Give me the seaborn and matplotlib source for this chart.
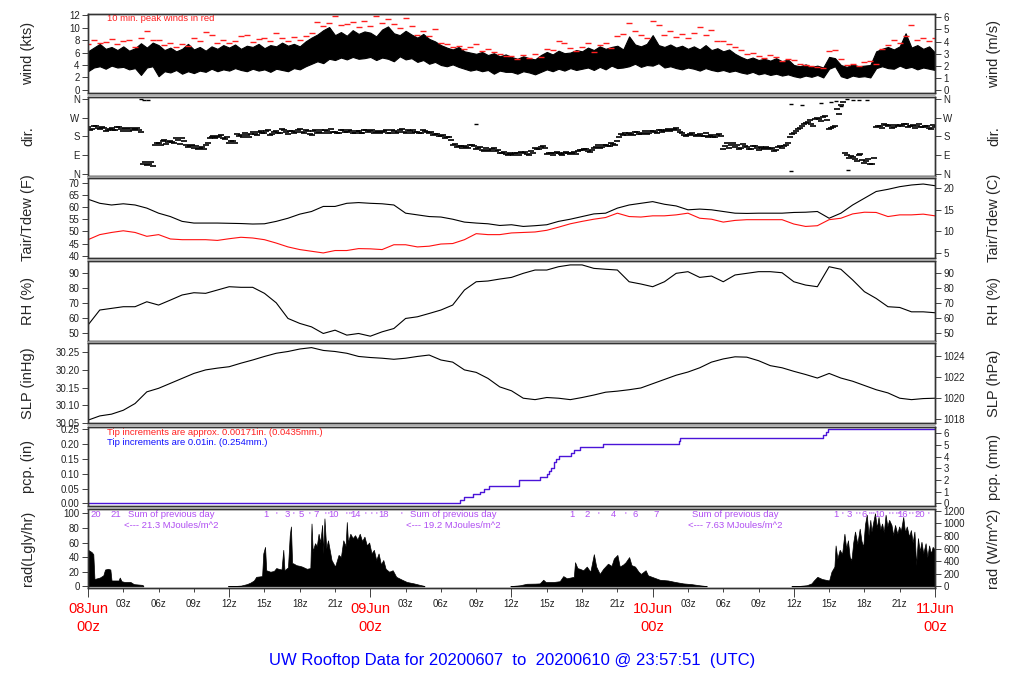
import numpy as np
import matplotlib
matplotlib.use("Agg")
import matplotlib.pyplot as plt
from matplotlib.lines import Line2D
from matplotlib.ticker import FormatStrFormatter
import seaborn as sns

sns.set_theme(style="ticks")
plt.rcParams['font.family'] = ['Liberation Sans', 'DejaVu Sans']

# ---- data (hours since 08Jun 00z) ----
hours = np.arange(0, 73)            # hourly samples
half_hours = np.arange(0, 145) / 2  # 30 min samples
dir_hours = np.arange(0, 217) / 3   # 20 min samples

# wind (kts), 30 min low / high of the 1-min trace and 10-min peaks
wind_lo = [3.0, 3.6, 3.8, 3.4, 3.9, 3.6, 3.7, 3.3, 3.5, 2.4, 3.6, 3.8,
           2.2, 3.0, 2.8, 3.2, 2.6, 3.0, 2.7, 3.1, 2.9, 3.4, 3.0, 3.3,
           3.1, 3.5, 3.2, 3.0, 3.4, 3.1, 3.3, 2.9, 3.4, 3.2, 3.0, 3.5,
           3.3, 3.8, 4.2, 4.6, 4.3, 5.0, 4.8, 5.2, 4.9, 5.3, 5.0, 5.1,
           5.3, 4.8, 5.2, 5.0, 4.6, 5.4, 4.9, 5.1, 4.5, 4.8, 4.2, 4.5,
           4.0, 3.8, 4.1, 3.7, 3.4, 3.1, 3.3, 3.0, 3.2, 2.6, 3.1, 2.9,
           2.9, 2.6, 3.0, 2.8, 2.5, 2.9, 3.3, 3.0, 3.4, 3.1, 3.5, 3.2,
           3.4, 3.6, 3.2, 3.7, 3.3, 3.9, 3.5, 3.6, 3.8, 4.2, 3.7, 4.0,
           3.9, 4.3, 3.6, 3.8, 3.5, 3.3, 3.6, 3.4, 3.1, 3.5, 3.2, 3.0,
           3.2, 2.9, 3.1, 2.8, 2.6, 2.9, 2.5, 2.7, 2.4, 2.6, 2.3, 2.5,
           2.2, 2.0, 2.3, 2.1, 2.4, 2.0, 3.4, 3.8, 2.2, 1.9, 2.3, 2.1,
           2.2, 2.0, 3.5, 3.8, 3.5, 3.4, 3.9, 3.5, 3.7, 3.3, 3.6, 3.4,
           3.2]
wind_hi = [6.2, 6.8, 7.4, 6.6, 6.9, 6.4, 7.0, 6.3, 6.7, 7.5, 6.8, 7.6,
           7.2, 6.4, 6.8, 6.2, 6.6, 7.4, 6.5, 6.9, 6.3, 7.0, 6.6, 7.2,
           6.8, 7.3, 6.6, 7.1, 6.9, 7.4, 6.7, 7.2, 7.0, 7.6, 7.1, 7.4,
           7.0, 7.8, 8.4, 8.9, 9.6, 10.1, 8.8, 9.3, 8.7, 9.6, 9.0, 9.4,
           9.2, 8.6, 9.7, 10.2, 9.1, 8.8, 9.5, 8.9, 8.4, 9.0, 8.2, 7.8,
           7.2, 6.8, 6.5, 6.9, 6.2, 6.0, 5.8, 6.1, 5.6, 5.9, 5.4, 5.7,
           5.3, 5.0, 5.4, 5.1, 4.9, 5.6, 6.1, 5.7, 6.3, 5.9, 6.0, 6.4,
           6.2, 6.8, 6.4, 7.0, 6.6, 6.9, 7.1, 6.5, 8.6, 7.3, 7.0, 7.4,
           8.8, 7.2, 6.9, 7.3, 6.8, 7.1, 6.6, 7.0, 6.5, 7.2, 6.4, 6.7,
           6.2, 6.5, 5.8, 5.3, 4.9, 5.2, 4.8, 5.0, 4.7, 5.1, 4.6, 4.9,
           4.0, 3.8, 4.1, 3.7, 3.9, 3.6, 5.3, 5.1, 4.0, 3.7, 4.1, 3.8,
           3.9, 4.0, 6.2, 6.6, 6.9, 6.5, 7.0, 9.1, 6.8, 7.2, 6.6, 7.0,
           6.0]
wind_peak = [7.4, 8.0, 7.6, 7.7, 8.2, 7.3, 7.9, 8.1, 6.9, 8.4, 9.4, 8.0,
             8.0, 7.2, 7.6, 6.9, 7.4, 7.1, 8.3, 7.8, 9.3, 8.9, 7.6, 8.1,
             7.5, 7.9, 8.6, 8.9, 7.7, 8.2, 8.4, 7.9, 9.2, 8.3, 7.8, 8.5,
             8.1, 8.7, 9.1, 10.9, 10.2, 10.7, 11.8, 10.4, 10.6, 10.9, 10.1, 11.1,
             10.3, 11.9, 10.8, 11.4, 10.6, 10.0, 11.5, 10.2, 8.8, 9.4, 8.6, 9.8,
             7.6, 7.3, 6.9, 7.1, 6.6, 6.9, 7.4, 6.3, 6.6, 6.1, 5.8, 5.5,
             5.4, 5.0, 5.6, 5.2, 5.8, 5.3, 6.5, 6.4, 7.8, 7.5, 6.7, 6.2,
             6.9, 7.6, 6.1, 7.2, 7.5, 6.8, 8.6, 9.0, 10.7, 9.5, 8.9, 8.4,
             11.1, 10.4, 8.8, 9.4, 8.5, 9.0, 8.4, 9.2, 10.1, 8.8, 9.7, 7.9,
             7.8, 7.4, 6.9, 6.4, 5.8, 5.9, 5.5, 5.2, 5.6, 5.3, 4.7, 5.0,
             4.8, 4.2, 4.0, 3.9, 3.6, 3.5, 6.3, 6.4, 5.0, 4.0, 4.2, 3.9,
             4.5, 4.6, 4.2, 6.6, 7.2, 8.1, 7.6, 8.6, 10.5, 8.0, 8.4, 7.9,
             8.3]

# wind direction (deg), two interleaved 20 min sample sets
wind_dir = [225, 218, 230, 215, 222, 210, 220, 212, 224, 208, 216, 219,
            214, 212, 48, 40, 55, 140, 150, 158, 145, 160, 148, 165,
            170, 140, 132, 125, 118, 130, 140, 170, 180, 175, 185, 168,
            150, 160, 190, 185, 195, 178, 200, 188, 205, 195, 210, 190,
            205, 198, 212, 190, 208, 200, 215, 196, 205, 185, 210, 200,
            198, 206, 215, 202, 196, 210, 200, 205, 195, 208, 198, 212,
            204, 196, 207, 200, 210, 198, 206, 200, 214, 198, 205, 210,
            202, 196, 208, 195, 185, 190, 180, 170, 176, 140, 128, 135,
            132, 125, 140, 118, 128, 110, 115, 120, 108, 98, 105, 92,
            96, 102, 92, 100, 95, 108, 125, 118, 132, 95, 102, 98,
            100, 92, 104, 97, 105, 110, 112, 118, 106, 122, 138, 130,
            140, 132, 145, 160, 190, 195, 198, 185, 202, 190, 205, 196,
            208, 198, 212, 205, 215, 210, 220, 200, 188, 185, 195, 180,
            190, 182, 176, 185, 178, 192, 120, 150, 140, 130, 118, 145,
            128, 120, 135, 115, 125, 130, 118, 110, 128, 125, 140, 175,
            195, 215, 230, 245, 260, 230, 270, 255, 280, 215, 225, 310,
            330, 100, 75, 80, 60, 95, 52, 70, 48, 225, 232, 240,
            228, 220, 235, 235, 242, 226, 230, 222, 238, 225, 232, 218,
            225]
wind_dir_b = [212, 228, 220, 226, 205, 218, 210, 226, 215, 222, 204, 212,
              220, 200, 58, 45, 35, 150, 140, 165, 152, 155, 170, 142,
              160, 128, 138, 132, 122, 120, 150, 178, 172, 182, 172, 178,
              160, 150, 182, 178, 188, 190, 192, 200, 195, 205, 185, 200,
              195, 215, 202, 205, 195, 212, 200, 210, 190, 205, 195, 212,
              210, 195, 200, 195, 212, 200, 210, 198, 205, 195, 210, 200,
              212, 200, 198, 205, 195, 212, 198, 210, 202, 210, 195, 200,
              195, 210, 200, 200, 192, 180, 185, 175, 165, 145, 132, 125,
              128, 138, 132, 125, 115, 122, 110, 125, 115, 102, 95, 100,
              90, 98, 105, 104, 92, 98, 118, 128, 125, 100, 92, 106,
              95, 102, 98, 102, 96, 115, 118, 110, 115, 128, 125, 140,
              135, 148, 138, 175, 185, 188, 192, 200, 190, 198, 192, 205,
              202, 210, 200, 212, 205, 218, 210, 195, 182, 192, 185, 188,
              184, 195, 180, 178, 188, 182, 135, 125, 148, 140, 125, 135,
              118, 132, 125, 128, 118, 122, 124, 115, 132, 132, 150, 190,
              205, 222, 240, 250, 238, 265, 262, 275, 258, 220, 232, 290,
              345, 90, 85, 70, 88, 65, 60, 45, 75, 230, 222, 235,
              236, 226, 230, 228, 238, 232, 236, 228, 225, 230, 222, 235,
              228]
stray_hours = [4.5, 4.8, 5.1, 33.0, 59.8, 60.7, 62.3, 63.2, 63.6, 64.0,
               64.5, 65.0, 65.5, 66.2, 59.8, 64.6]
stray_dir = [358, 357, 356, 240, 338, 332, 340, 345, 350, 325,
             358, 357, 356, 355, 13, 16]

# air / dew point temperature (F)
t_air = [63.4, 61.7, 61.0, 61.5, 61.0, 59.7, 57.6, 56.2, 54.2, 53.5,
         53.5, 53.5, 53.4, 53.3, 53.1, 53.2, 54.2, 55.5, 57.2, 58.3,
         60.4, 60.4, 61.7, 62.0, 61.7, 61.5, 61.0, 57.6, 56.9, 56.2,
         56.0, 55.1, 53.9, 53.5, 53.2, 52.5, 52.8, 52.1, 52.4, 52.8,
         54.2, 55.1, 56.2, 57.3, 57.6, 59.7, 61.0, 61.7, 62.4, 61.3,
         60.6, 59.0, 59.3, 59.0, 58.3, 57.6, 57.5, 57.6, 57.6, 57.6,
         57.9, 58.0, 58.3, 55.5, 57.6, 61.0, 63.8, 66.6, 67.5, 68.6,
         69.3, 69.7, 69.0]
t_dew = [46.6, 48.7, 49.6, 50.3, 49.6, 48.0, 48.7, 46.9, 46.6, 46.6,
         46.6, 46.3, 47.0, 47.6, 47.3, 46.6, 45.2, 43.6, 42.5, 41.8,
         41.1, 42.1, 42.1, 42.9, 42.8, 42.5, 44.5, 44.5, 43.6, 43.9,
         44.8, 45.0, 46.6, 49.1, 48.7, 48.7, 49.4, 49.6, 49.8, 50.5,
         51.8, 53.2, 54.2, 55.1, 55.8, 57.6, 56.2, 56.0, 56.5, 56.5,
         56.9, 57.6, 55.5, 55.1, 53.9, 54.6, 54.9, 54.9, 54.9, 54.9,
         53.1, 52.1, 52.4, 54.9, 55.5, 57.3, 58.0, 57.9, 56.2, 56.9,
         56.9, 57.2, 56.5]

# relative humidity (%)
rh = [55.6, 65.6, 66.7, 67.8, 67.8, 71.1, 68.9, 72.2, 75.6, 77.1,
      76.7, 78.9, 81.1, 80.7, 80.7, 76.7, 70.4, 60.0, 56.7, 54.4,
      50.0, 52.2, 48.9, 50.0, 48.2, 51.1, 53.3, 60.0, 61.1, 63.3,
      65.6, 68.9, 78.9, 84.4, 84.9, 86.2, 87.3, 90.0, 92.2, 92.2,
      94.4, 95.6, 95.6, 93.3, 92.7, 92.2, 84.4, 82.9, 81.1, 84.4,
      90.0, 91.1, 87.3, 88.2, 84.4, 88.9, 90.0, 91.1, 91.1, 90.4,
      84.4, 82.2, 81.1, 94.4, 92.7, 85.6, 77.8, 73.3, 67.8, 67.3,
      64.4, 64.4, 63.8]

# sea level pressure (inHg)
slp = [30.058, 30.070, 30.075, 30.086, 30.105, 30.138, 30.148, 30.162, 30.176, 30.190,
       30.200, 30.205, 30.209, 30.219, 30.228, 30.238, 30.247, 30.252, 30.259, 30.263,
       30.255, 30.252, 30.247, 30.238, 30.235, 30.233, 30.230, 30.233, 30.238, 30.242,
       30.228, 30.222, 30.200, 30.193, 30.176, 30.152, 30.141, 30.120, 30.116, 30.122,
       30.120, 30.116, 30.122, 30.129, 30.137, 30.140, 30.144, 30.149, 30.161, 30.173,
       30.185, 30.194, 30.206, 30.222, 30.231, 30.237, 30.236, 30.226, 30.212, 30.206,
       30.196, 30.187, 30.177, 30.190, 30.177, 30.168, 30.156, 30.144, 30.135, 30.120,
       30.116, 30.119, 30.120]

# accumulated precipitation (in)
pcp_hours = [0, 31.6, 32.0, 32.7, 33.3, 33.7, 34.1, 36.6, 38.4, 39.0, 39.2, 39.4,
             39.6, 39.8, 40.0, 41.1, 41.3, 41.8, 43.8, 50.2, 50.35, 62.5, 62.7, 62.9, 72]
pcp_in = [0.0, 0.01, 0.02, 0.03, 0.04, 0.05, 0.06, 0.08, 0.09, 0.10, 0.11, 0.12,
          0.14, 0.15, 0.16, 0.17, 0.18, 0.19, 0.20, 0.21, 0.22, 0.23, 0.24, 0.25, 0.25]

# solar radiation (langleys/hr), one pair of lists per daylight period
rad0_h = [0.0, 0.3, 0.45, 0.55, 1.0, 1.3, 1.45, 1.7, 1.9, 2.0, 2.1, 2.6, 2.7,
          2.85, 3.1, 3.6, 3.9, 4.6, 4.7]
rad0_v = [50, 47, 44, 10, 12, 15, 23, 24, 23, 8, 8, 8, 12, 7, 6, 6, 3, 2, 1]
rad1_h = [11.9, 12.5, 13.0, 13.5, 13.8, 14.1, 14.3, 14.8, 14.9, 15.05, 15.15, 15.5,
          15.8, 16.0, 16.2, 16.45, 16.6, 16.7, 17.0, 17.15, 17.25, 17.35, 17.5, 17.7,
          18.0, 18.2, 18.6, 18.9, 19.0, 19.1, 19.3, 19.45, 19.6, 19.75, 19.9, 20.0,
          20.1, 20.25, 20.4, 20.7, 21.0, 21.3, 21.5, 21.7, 21.9, 22.0, 22.1, 22.3,
          22.5, 22.7, 22.9, 23.1, 23.3, 23.5, 23.7, 23.9, 24.1, 24.3, 24.5, 24.7,
          24.9, 25.1, 25.3, 25.6, 25.9, 26.2, 26.7, 27.1, 27.7, 28.2, 28.6]
rad1_v = [0.3, 0.5, 1.0, 3, 5, 8, 13, 14, 45, 54, 22, 20,
          21, 25, 24, 23, 50, 22, 26, 70, 82, 32, 31, 29,
          28, 27, 24, 25, 86, 48, 59, 55, 72, 60, 84, 45,
          93, 52, 63, 36, 27, 43, 40, 63, 55, 88, 60, 72,
          66, 70, 64, 72, 62, 68, 56, 60, 45, 50, 36, 45,
          30, 36, 24, 20, 22, 13, 9, 6, 4, 2, 0.5]
rad2_h = [35.9, 36.7, 37.3, 38.0, 38.4, 38.7, 38.9, 39.6, 40.1, 40.4, 40.7, 41.0,
          41.3, 41.4, 41.6, 41.8, 42.1, 42.4, 42.7, 43.0, 43.2, 43.5, 43.8, 44.2,
          44.5, 44.7, 45.0, 45.2, 45.5, 45.7, 46.0, 46.2, 46.5, 46.8, 47.0, 47.4,
          47.6, 48.1, 48.6, 49.3, 49.9, 50.6, 51.3, 52.0, 52.6]
rad2_v = [0.3, 1.4, 3.5, 3.7, 4, 9, 6, 6, 7, 14, 11, 12,
          13, 33, 25, 24, 22, 27, 20, 44, 27, 17, 24, 31,
          28, 38, 43, 27, 30, 33, 40, 29, 27, 20, 17, 22,
          15, 12, 9, 8, 6, 4, 3, 1.4, 0.3]
rad3_h = [59.8, 60.5, 61.1, 61.5, 61.7, 62.0, 62.4, 63.0, 63.2, 63.45, 63.55, 63.7,
          63.9, 64.1, 64.3, 64.45, 64.6, 64.75, 64.9, 65.05, 65.2, 65.4, 65.6, 65.75,
          65.9, 66.05, 66.2, 66.35, 66.5, 66.6, 66.75, 66.9, 67.05, 67.2, 67.35, 67.5,
          67.65, 67.8, 67.95, 68.1, 68.3, 68.45, 68.6, 68.8, 68.95, 69.1, 69.3, 69.45,
          69.6, 69.8, 69.95, 70.1, 70.25, 70.4, 70.55, 70.7, 70.85, 71.0, 71.2, 71.35,
          71.5, 71.65, 71.8, 72.0]
rad3_v = [0.3, 0.6, 1.5, 4, 8, 13, 10, 8, 20, 27, 56, 38,
          50, 44, 72, 52, 63, 40, 36, 60, 75, 58, 79, 62,
          54, 85, 98, 70, 91, 75, 88, 100, 80, 95, 78, 86,
          74, 98, 82, 91, 84, 70, 84, 72, 82, 76, 95, 74,
          82, 68, 77, 60, 75, 29, 66, 48, 61, 45, 59, 40,
          56, 45, 54, 50]

# cumulative MJ/m^2 marks printed in the radiation panel
mark_hours = [0.68, 2.38, 15.1, 16.0, 16.9, 17.5, 18.1, 18.8, 19.4, 20.2, 20.45, 20.85,
              22.0, 22.2, 22.4, 22.7, 23.6, 24.1, 24.5, 25.1, 26.6,
              41.1, 42.4, 43.4, 44.7, 45.7, 46.5, 48.3,
              63.6, 64.1, 64.7, 65.3, 65.6, 66.0, 66.4, 66.6, 66.8, 67.3, 68.1, 68.4,
              68.7, 68.9, 69.0, 69.25, 69.8, 70.1, 70.4, 70.7, 71.4]
mark_text = ["20", "21", "1", "'", "3", "'", "5", "'", "7", "'", "'", "10",
             "'", "'", "'", "14", "'", "'", "'", "18", "'",
             "1", "2", "'", "4", "'", "6", "7",
             "1", "'", "3", "'", "'", "6", "'", "'", "'", "10", "'", "'",
             "'", "'", "'", "16", "'", "'", "'", "20", "'"]
sum_hours = [7.05, 31.05, 55.0]
sum_text = ["21.3", "19.2", "7.63"]

day_names = ["08Jun", "09Jun", "10Jun", "11Jun"]

# ---- layout (pixel rows of each panel) ----
W, H = 1024, 700
X0, X1 = 88, 935
rows = [(14, 93), (97, 176), (178, 258), (261, 341), (343, 423), (427, 506), (509, 588)]
PURPLE = '#b04ef2'
TICK_COL = '#222222'

fig = plt.figure(figsize=(W / 100, H / 100), dpi=100)


def panel(top, bot, ylim):
    ax = fig.add_axes([X0 / W, 1 - bot / H, (X1 - X0) / W, (bot - top) / H])
    ax.set_xlim(0, 72)
    ax.set_ylim(*ylim)
    ax.set_facecolor('white')
    for s in ax.spines.values():
        s.set_color('#333333')
        s.set_linewidth(1.0)
    ax.tick_params(axis='y', direction='out', length=4, width=0.6,
                   labelsize=7, pad=2, colors=TICK_COL)
    ax.tick_params(axis='x', bottom=False, labelbottom=False)
    return ax


def twin(ax, f, ticks, fmt=None, labels=None):
    a2 = ax.twinx()
    lo, hi = ax.get_ylim()
    a2.set_ylim(f(lo), f(hi))
    a2.set_yticks(ticks)
    if labels is not None:
        a2.set_yticklabels(labels)
    elif fmt is not None:
        a2.yaxis.set_major_formatter(FormatStrFormatter(fmt))
    for s in a2.spines.values():
        s.set_color('#333333')
        s.set_linewidth(1.0)
    a2.tick_params(axis='y', direction='out', length=4, width=0.6,
                   labelsize=7, pad=2, colors=TICK_COL)
    return a2


# 1. wind speed: band between the low and high of the 1-min trace
ax = panel(*rows[0], (-0.5, 12.2))
ax.fill_between(half_hours, wind_lo, wind_hi, color='black', lw=0.8)
ax.plot(half_hours, wind_peak, ls='none', marker='_', ms=4, mew=1.0, color='#ff2020')
ax.set_yticks(range(0, 13, 2))
ax.text(1.6, 11.4, "10 min. peak winds in red", color='#ff2020', fontsize=6.8,
        ha='left', va='center')
twin(ax, lambda v: v / 1.94384, range(0, 7))

# 2. wind direction
ax = panel(*rows[1], (-11, 370))
ax.plot(dir_hours, wind_dir, ls='none', marker='_', ms=4, mew=1.2, color='black')
ax.plot(dir_hours + 1 / 6, wind_dir_b, ls='none', marker='_', ms=4, mew=1.2, color='black')
ax.plot(stray_hours, stray_dir, ls='none', marker='_', ms=3.5, mew=1.0, color='black')
ax.set_yticks([0, 90, 180, 270, 360])
ax.set_yticklabels(['N', 'E', 'S', 'W', 'N'])
twin(ax, lambda v: v, [0, 90, 180, 270, 360], labels=['N', 'E', 'S', 'W', 'N'])

# 3. temperature
ax = panel(*rows[2], (39.0, 72.2))
sns.lineplot(x=hours, y=t_air, ax=ax, color='black', lw=0.8, estimator=None, errorbar=None)
sns.lineplot(x=hours, y=t_dew, ax=ax, color='#ff1010', lw=0.8, estimator=None, errorbar=None)
ax.set_yticks(range(40, 71, 5))
twin(ax, lambda v: (v - 32) * 5 / 9, [5, 10, 15, 20])

# 4. relative humidity
ax = panel(*rows[3], (45.0, 98.2))
sns.lineplot(x=hours, y=rh, ax=ax, color='black', lw=0.8, estimator=None, errorbar=None)
ax.set_yticks(range(50, 91, 10))
twin(ax, lambda v: v, range(50, 91, 10))

# 5. sea level pressure
ax = panel(*rows[4], (30.05, 30.276))
sns.lineplot(x=hours, y=slp, ax=ax, color='black', lw=0.8, estimator=None, errorbar=None)
ax.set_yticks([30.05, 30.10, 30.15, 30.20, 30.25])
ax.yaxis.set_major_formatter(FormatStrFormatter('%.2f'))
twin(ax, lambda v: v * 33.8639, [1018, 1020, 1022, 1024])

# 6. precipitation
ax = panel(*rows[5], (-0.009, 0.258))
sns.lineplot(x=pcp_hours, y=pcp_in, ax=ax, color='#4a14d8', lw=1.0,
             drawstyle='steps-post', estimator=None, errorbar=None)
ax.set_yticks([0, 0.05, 0.10, 0.15, 0.20, 0.25])
ax.yaxis.set_major_formatter(FormatStrFormatter('%.2f'))
ax.text(1.6, 0.2387, "Tip increments are approx. 0.00171in. (0.0435mm.)",
        color='#ff2020', fontsize=6.8, ha='left', va='center')
ax.text(1.6, 0.2073, "Tip increments are 0.01in. (0.254mm.)",
        color='#1010ff', fontsize=6.8, ha='left', va='center')
twin(ax, lambda v: v * 25.4, range(0, 7))

# 7. solar radiation
ax = panel(*rows[6], (-2.3, 105.9))
for rh_, rv_ in [(rad0_h, rad0_v), (rad1_h, rad1_v), (rad2_h, rad2_v), (rad3_h, rad3_v)]:
    ax.fill_between(rh_, 0, rv_, color='black', lw=0.5)
ax.set_yticks(range(0, 101, 20))
for h, s in zip(mark_hours, mark_text):
    ax.text(h, 97.7, s, color=PURPLE, fontsize=6.8, ha='center', va='center')
for h, s in zip(sum_hours, sum_text):
    ax.text(h, 97.7, "Sum of previous day", color=PURPLE, fontsize=6.8,
            ha='center', va='center')
    ax.text(h, 83.0, "<--- %s MJoules/m^2" % s, color=PURPLE, fontsize=6.8,
            ha='center', va='center')
twin(ax, lambda v: v * 11.622, range(0, 1201, 200))

# time axis on the bottom panel
major = list(range(0, 73, 12))
minor = [h for h in range(3, 72, 3) if h % 12]
ax.set_xticks(major, labels=['' if h % 24 == 0 else '%02dz' % (h % 24) for h in major])
ax.set_xticks(minor, labels=['%02dz' % (h % 24) for h in minor], minor=True)
ax.tick_params(axis='x', which='major', bottom=True, labelbottom=True, direction='out',
               length=6.5, width=0.6, pad=1.5, labelsize=7, colors=TICK_COL)
ax.tick_params(axis='x', which='minor', bottom=True, labelbottom=True, direction='out',
               length=3, width=0.6, pad=5, labelsize=7, colors=TICK_COL)
xt = ax.get_xaxis_transform()
for i, name in enumerate(day_names):
    ax.text(24 * i, -0.266, name, transform=xt, color='#ff0000', fontsize=10.5,
            ha='center', va='center')
    ax.text(24 * i, -0.49, "00z", transform=xt, color='#ff0000', fontsize=10.5,
            ha='center', va='center')

# grey separators between the stacked panels
for y in [95, 177, 259.5, 342, 425, 507.5]:
    fig.add_artist(Line2D([X0 / W, X1 / W], [1 - y / H, 1 - y / H],
                          color='#a0a0a0', lw=1.2))

# axis titles
left_labels = ["wind (kts)", "dir.", "Tair/Tdew (F)", "RH (%)", "SLP (inHg)",
               "pcp. (in)", "rad(Lgly/hr)"]
right_labels = ["wind (m/s)", "dir.", "Tair/Tdew (C)", "RH (%)", "SLP (hPa)",
                "pcp. (mm)", "rad (W/m^2)"]
for (top, bot), ll, rl in zip(rows, left_labels, right_labels):
    mid = 1 - (top + bot) / 2 / H
    fig.text(28 / W, mid, ll, rotation=90, ha='center', va='center', fontsize=10.5)
    fig.text(994 / W, mid, rl, rotation=90, ha='center', va='center', fontsize=10.5)

fig.text(512 / W, 1 - 660 / H,
         "UW Rooftop Data for 20200607  to  20200610 @ 23:57:51  (UTC)",
         color='#0000ff', fontsize=12, ha='center', va='center')

fig.savefig("out.png", dpi=100)
